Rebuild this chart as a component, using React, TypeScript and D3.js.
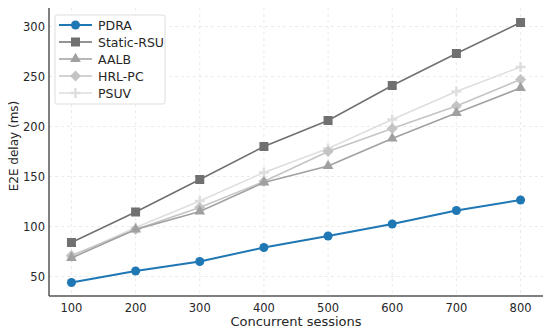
import React from 'react';
import * as d3 from 'd3';

const sessions = [100, 200, 300, 400, 500, 600, 700, 800];
const pdra = [44, 55.5, 65, 79, 90.5, 102.5, 116, 126.5];
const staticRsu = [84, 114.5, 147, 180, 206, 241, 273, 304];
const aalb = [68.5, 97, 115, 144, 160.5, 188, 213.5, 238.5];
const hrlpc = [71, 97, 119, 145, 175, 198, 220.5, 247];
const psuv = [70, 99, 125.5, 154, 178, 207, 235, 259.5];
const yTicks = [50, 100, 150, 200, 250, 300];

const seriesList = [
  { name: 'PDRA', values: pdra, color: '#1f77b4', width: 2, marker: 'circle' },
  { name: 'Static-RSU', values: staticRsu, color: '#707070', width: 1.5, marker: 'square' },
  { name: 'AALB', values: aalb, color: '#a0a0a0', width: 1.5, marker: 'triangle' },
  { name: 'HRL-PC', values: hrlpc, color: '#c4c4c4', width: 1.5, marker: 'diamond' },
  { name: 'PSUV', values: psuv, color: '#dedede', width: 1.5, marker: 'plus' },
];

const W = 550;
const H = 331;
const margin = { left: 49, right: 7, top: 8, bottom: 35 };
const font = '"DejaVu Sans", sans-serif';

function Marker({ type, x, y, color }: { type: string; x: number; y: number; color: string }) {
  if (type === 'circle') return <circle cx={x} cy={y} r={4.5} fill={color} />;
  if (type === 'square') return <rect x={x - 4.5} y={y - 4.5} width={9} height={9} fill={color} />;
  if (type === 'triangle') {
    const s = d3.symbol().type(d3.symbolTriangle).size(50)();
    return <path d={s || ''} transform={`translate(${x},${y})`} fill={color} />;
  }
  if (type === 'diamond') {
    const r = 5.5;
    return <path d={`M${x},${y - r}L${x + r},${y}L${x},${y + r}L${x - r},${y}Z`} fill={color} />;
  }
  return (
    <g stroke={color} strokeWidth={2.5}>
      <line x1={x - 5} x2={x + 5} y1={y} y2={y} />
      <line x1={x} x2={x} y1={y - 5} y2={y + 5} />
    </g>
  );
}

export default function App() {
  const x = d3.scaleLinear().domain([65, 835]).range([margin.left, W - margin.right]);
  const y = d3.scaleLinear().domain([30.5, 318.5]).range([H - margin.bottom, margin.top]);
  const line = d3.line<number>().x((_, i) => x(sessions[i])).y((d) => y(d));
  const bottom = H - margin.bottom;

  return (
    <svg width={W} height={H} style={{ position: 'absolute', left: 0, top: 0, fontFamily: font }}>
      <rect width={W} height={H} fill="#fff" />
      {sessions.map((s) => (
        <line key={'gx' + s} x1={x(s)} x2={x(s)} y1={margin.top} y2={bottom} stroke="#e6e6e6" strokeDasharray="3,3" strokeWidth={0.8} />
      ))}
      {yTicks.map((t) => (
        <line key={'gy' + t} x1={margin.left} x2={W - margin.right} y1={y(t)} y2={y(t)} stroke="#e6e6e6" strokeDasharray="3,3" strokeWidth={0.8} />
      ))}
      {seriesList.slice().reverse().map((s) => (
        <g key={s.name}>
          <path d={line(s.values) || ''} fill="none" stroke={s.color} strokeWidth={s.width} />
          {s.values.map((v, i) => (
            <Marker key={i} type={s.marker} x={x(sessions[i])} y={y(v)} color={s.color} />
          ))}
        </g>
      ))}
      <line x1={margin.left} x2={margin.left} y1={margin.top} y2={bottom} stroke="#555" strokeWidth={1.5} />
      <line x1={margin.left} x2={W - margin.right} y1={bottom} y2={bottom} stroke="#555" strokeWidth={1.5} />
      {sessions.map((s) => (
        <text key={'tx' + s} x={x(s)} y={bottom + 16} textAnchor="middle" fontSize={11.5} fill="#262626">{s}</text>
      ))}
      {yTicks.map((t) => (
        <text key={'ty' + t} x={margin.left - 4} y={y(t) + 4} textAnchor="end" fontSize={11.5} fill="#262626">{t}</text>
      ))}
      <text x={(margin.left + W - margin.right) / 2} y={H - 5} textAnchor="middle" fontSize={13} fill="#262626">Concurrent sessions</text>
      <text transform={`translate(18,146) rotate(-90)`} textAnchor="middle" fontSize={12} fill="#262626">E2E delay (ms)</text>
      <g transform="translate(55,15)">
        <rect width={110} height={89} rx={2} fill="#fff" fillOpacity={0.85} stroke="#ddd" />
        {seriesList.map((s, i) => (
          <g key={s.name} transform={`translate(0,${10 + i * 17})`}>
            <line x1={4} x2={37} y1={0} y2={0} stroke={s.color} strokeWidth={s.width} />
            <Marker type={s.marker} x={20.5} y={0} color={s.color} />
            <text x={43} y={4.5} fontSize={12.5} fill="#262626">{s.name}</text>
          </g>
        ))}
      </g>
    </svg>
  );
}
